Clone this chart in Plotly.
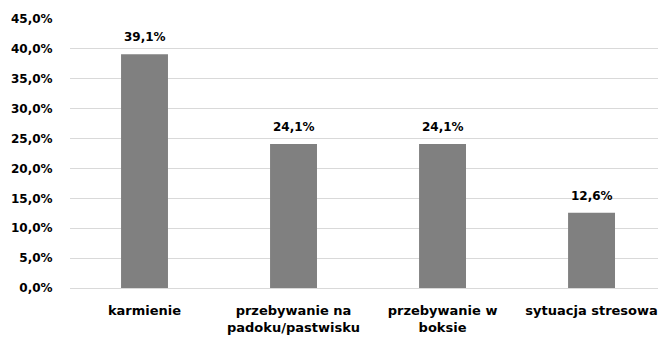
import plotly.graph_objects as go

categories = ["karmienie", "przebywanie na<br>padoku/pastwisku", "przebywanie w<br>boksie", "sytuacja stresowa"]
values = [39.1, 24.1, 24.1, 12.6]
y_ticks = [0, 5, 10, 15, 20, 25, 30, 35, 40, 45]
y_tick_labels = [f"{v:.1f}%".replace(".", ",") for v in y_ticks]

font_family = "DejaVu Sans"
label_font = dict(family=font_family, size=12, color="#000000", weight="bold")
category_font = dict(family=font_family, size=13, color="#000000", weight="bold")

fig = go.Figure(
    go.Bar(
        x=categories,
        y=values,
        marker=dict(color="#808080", line=dict(width=0)),
        width=0.315,
        hoverinfo="skip",
    )
)

# value labels above each bar
for cat, val in zip(categories, values):
    fig.add_annotation(
        x=cat,
        y=val,
        text=f"{val:.1f}%".replace(".", ","),
        showarrow=False,
        yanchor="bottom",
        yshift=8,
        font=label_font,
    )

fig.update_layout(
    width=658,
    height=338,
    margin=dict(l=70, r=0, t=19, b=50),
    plot_bgcolor="#ffffff",
    paper_bgcolor="#ffffff",
    showlegend=False,
    font=label_font,
    xaxis=dict(
        range=[-0.5, 3.446],
        showgrid=False,
        showline=True,
        linecolor="#d9d9d9",
        linewidth=1,
        ticks="outside",
        ticklen=10,
        tickcolor="rgba(0,0,0,0)",
        tickfont=category_font,
    ),
    yaxis=dict(
        range=[0, 45],
        tickvals=y_ticks,
        ticktext=y_tick_labels,
        showgrid=True,
        gridcolor="#d9d9d9",
        gridwidth=1,
        zeroline=False,
        ticks="outside",
        ticklen=14,
        tickcolor="rgba(0,0,0,0)",
        tickfont=label_font,
    ),
)

fig.write_html("out.html")
